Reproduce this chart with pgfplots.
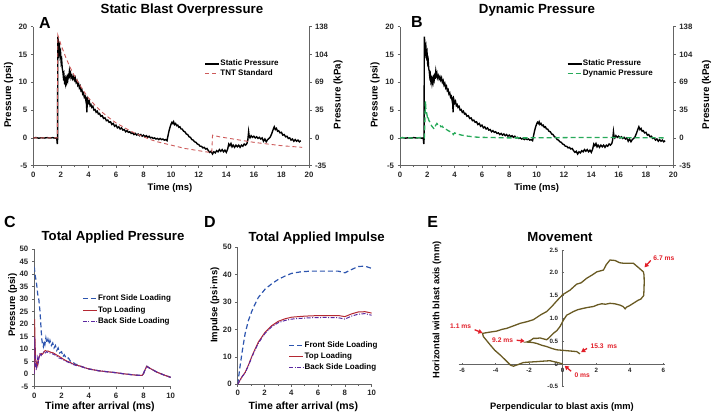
\documentclass[border=0pt]{standalone}
\usepackage{fontspec}
\setmainfont{Liberation Sans}
\usepackage{pgfplots}
\pgfplotsset{compat=1.18}
\usepackage{pgfplotstable}
\usetikzlibrary{arrows.meta}

\definecolor{axgray}{RGB}{100,100,100}
\definecolor{tntred}{RGB}{205,90,90}
\definecolor{dyngreen}{RGB}{40,170,90}
\definecolor{fblue}{RGB}{45,85,175}
\definecolor{tred}{RGB}{180,40,50}
\definecolor{bpurple}{RGB}{90,40,160}
\definecolor{olivetr}{RGB}{105,90,35}
\definecolor{annred}{RGB}{225,30,40}

\pgfplotstableread{
t p
0 0
0.2 0.05
0.4 -0.05
0.6 0.03
0.8 -0.03
1.0 0.05
1.2 -0.02
1.4 0.04
1.6 -0.05
1.70 0.0
1.74 -1.1
1.76 -0.3
1.78 18.2
1.82 17.0
1.86 15.5
1.90 16.2
1.94 14.8
1.98 15.3
2.02 13.6
2.06 14.0
2.10 12.5
2.14 12.0
2.18 11.0
2.22 11.4
2.26 10.2
2.30 10.6
2.34 9.8
2.38 10.5
2.42 10.0
2.46 10.8
2.50 10.4
2.54 11.2
2.58 11.0
2.62 12.0
2.66 11.3
2.70 11.6
2.74 10.8
2.80 11.2
2.86 10.6
2.92 11.0
2.98 10.4
3.04 10.8
3.10 10.0
3.16 10.3
3.22 9.5
3.28 9.8
3.34 9.0
3.40 9.3
3.46 8.5
3.52 8.7
3.58 7.9
3.64 8.1
3.70 7.3
3.76 7.5
3.82 6.6
3.86 6.9
3.88 4.6
3.91 6.0
3.95 6.8
4.00 6.3
4.06 6.6
4.12 5.8
4.18 6.0
4.24 5.5
4.32 5.7
4.40 5.0
4.48 5.1
4.56 4.6
4.64 4.8
4.72 4.3
4.80 4.4
4.90 3.9
5.00 4.0
5.10 3.5
5.20 3.6
5.30 3.1
5.40 3.2
5.50 2.8
5.60 2.9
5.70 2.4
5.80 2.6
5.90 2.1
6.00 2.3
6.10 1.8
6.20 2.0
6.30 1.6
6.40 1.8
6.50 1.4
6.60 1.5
6.70 1.1
6.80 1.3
6.90 1.0
7.00 1.1
7.10 0.8
7.20 0.9
7.30 0.6
7.40 0.8
7.50 0.5
7.60 0.7
7.70 0.4
7.80 0.6
7.90 0.3
8.00 0.5
8.10 0.2
8.20 0.4
8.30 0.1
8.40 0.3
8.50 0.0
8.60 0.1
8.70 -0.1
8.80 0.0
8.90 -0.2
9.00 -0.1
9.10 -0.3
9.20 -0.1
9.30 -0.3
9.40 -0.2
9.50 -0.4
9.60 -0.3
9.70 -0.5
9.78 0.5
9.86 1.4
9.94 2.1
10.00 2.5
10.06 2.8
10.12 2.6
10.18 2.9
10.24 2.4
10.32 2.6
10.40 2.2
10.48 2.3
10.56 1.9
10.64 2.0
10.72 1.6
10.80 1.6
10.90 1.2
11.00 1.1
11.10 0.7
11.20 0.6
11.30 0.2
11.40 0.1
11.50 -0.3
11.60 -0.4
11.70 -0.7
11.80 -0.8
11.90 -1.1
12.00 -1.2
12.10 -1.5
12.20 -1.5
12.30 -1.8
12.40 -1.7
12.50 -2.0
12.60 -1.9
12.70 -2.3
12.80 -2.6
12.90 -2.4
13.00 -2.9
13.10 -2.5
13.20 -2.7
13.30 -2.3
13.40 -2.5
13.50 -2.1
13.60 -2.4
13.70 -2.1
13.80 -2.5
13.90 -2.2
14.00 -2.6
14.10 -2.0
14.18 -1.1
14.26 -1.4
14.34 -1.0
14.42 -1.6
14.50 -1.3
14.60 -1.7
14.70 -1.3
14.80 -1.6
14.90 -1.3
15.00 -1.7
15.10 -1.3
15.20 -1.5
15.30 -1.1
15.40 -1.3
15.50 -1.0
15.56 -0.4
15.62 1.1
15.66 0.3
15.72 0.0
15.80 0.4
15.90 0.1
16.00 0.3
16.10 0.0
16.20 0.2
16.30 -0.1
16.40 0.1
16.50 -0.2
16.60 0.0
16.70 -0.6
16.80 -0.2
16.90 -0.7
17.00 -0.3
17.10 -0.1
17.20 0.2
17.30 0.8
17.40 1.5
17.48 2.0
17.56 1.5
17.64 1.7
17.72 1.2
17.80 1.3
17.90 0.9
18.00 1.0
18.10 0.5
18.20 0.6
18.30 0.2
18.40 0.3
18.50 -0.1
18.60 0.0
18.70 -0.4
18.80 -0.2
18.90 -0.6
19.00 -0.3
19.10 -0.6
19.20 -0.4
19.30 -0.7
19.40 -0.5
}\staticdata

\pgfplotstableread{
t p
0 0
1.74 0
1.78 18.5
2.0 16.8
2.4 14.2
2.8 12.0
3.2 10.2
3.6 8.6
4.0 7.2
4.5 5.8
5.0 4.6
5.5 3.6
6.0 2.7
6.5 2.0
7.0 1.3
7.5 0.7
8.0 0.2
8.5 -0.3
9.0 -0.7
9.5 -1.0
10.0 -1.3
10.5 -1.6
11.0 -1.9
11.5 -2.1
12.0 -2.3
12.5 -2.5
12.95 -2.65
13.0 0.5
13.5 0.2
14.0 0.0
14.5 -0.2
15.0 -0.4
15.5 -0.6
16.0 -0.8
16.5 -0.95
17.0 -1.1
17.5 -1.25
18.0 -1.4
18.5 -1.5
19.0 -1.6
19.5 -1.7
}\tntdata

\pgfplotstableread{
t p
0 0
0.5 0.05
1.0 -0.05
1.5 0.05
1.78 0
1.82 3.0
1.86 6.6
1.90 5.0
1.95 4.5
2.0 3.8
2.05 4.0
2.1 3.2
2.2 2.8
2.3 2.2
2.4 1.9
2.5 1.6
2.6 2.2
2.7 2.6
2.8 2.3
2.9 2.4
3.0 2.0
3.1 2.1
3.2 1.7
3.4 1.5
3.6 1.2
3.8 1.0
3.9 0.6
4.0 0.9
4.2 0.7
4.5 0.5
5.0 0.3
5.5 0.15
6.0 0.1
7.0 0.05
8.0 0.0
9.0 0.0
10.0 0.02
12.0 0.05
14.0 0.08
16.0 0.05
18.0 0.03
19.5 0.0
}\dyndata

\pgfplotstableread{
t f
0 43
0.05 40
0.1 38.5
0.17 36
0.25 32
0.33 30
0.42 25
0.5 18
0.55 14
0.6 12
0.66 11
0.72 13.5
0.78 12
0.85 14.5
0.92 12.5
1.0 14
1.08 12
1.15 13.5
1.25 11.5
1.35 12.5
1.45 10.5
1.55 11.5
1.65 9.5
1.75 10.5
1.85 8.5
2.0 9
2.1 7
2.2 7.8
2.35 6.2
2.5 6.5
2.65 5.2
2.8 5.0
3.0 4.0
3.2 3.8
3.4 3.2
3.7 2.6
4.0 2.1
4.4 1.7
4.7 1.4
5.0 1.2
5.5 0.9
6.0 0.6
6.5 0.2
7.0 -0.1
7.5 -0.4
7.9 -0.5
8.0 0.2
8.15 2.2
8.25 3.2
8.4 2.6
8.6 2.0
9.0 0.8
9.5 -0.3
10.0 -1.2
}\frontdata

\pgfplotstableread{
t p
0 0
0.02 22
0.06 12
0.1 6
0.15 3
0.2 4.5
0.25 3.5
0.3 6
0.4 7.5
0.5 8.3
0.6 8.0
0.7 8.8
0.8 9.5
0.9 9.2
1.0 9.3
1.2 8.8
1.4 8.5
1.6 7.8
1.8 7.2
2.0 6.5
2.2 5.8
2.4 5.2
2.6 4.8
2.8 4.2
3.0 3.8
3.4 3.2
3.7 2.6
4.0 2.1
4.4 1.7
4.7 1.4
5.0 1.2
5.5 0.9
6.0 0.6
6.5 0.2
7.0 -0.1
7.5 -0.4
7.9 -0.5
8.0 0.2
8.15 2.2
8.25 3.2
8.4 2.6
8.6 2.0
9.0 0.8
9.5 -0.3
10.0 -1.2
}\topdata

\pgfplotstableread{
t p
0 0
0.02 15
0.06 8
0.1 3
0.15 1.8
0.2 4
0.25 6.5
0.3 5
0.4 8.5
0.5 7.5
0.6 8.5
0.7 9
0.8 8.5
0.9 9
1.0 8.7
1.2 8.4
1.4 8.0
1.6 7.5
1.8 6.5
2.0 6.2
2.2 5.5
2.4 5.0
2.6 4.5
2.8 4.0
3.0 3.6
3.4 3.1
3.7 2.6
4.0 2.1
4.4 1.7
4.7 1.4
5.0 1.2
5.5 0.9
6.0 0.6
6.5 0.2
7.0 -0.1
7.5 -0.4
7.9 -0.5
8.0 0.2
8.15 2.2
8.25 3.1
8.4 2.6
8.6 2.0
9.0 0.8
9.5 -0.3
10.0 -1.3
}\backdata

\pgfplotstableread{
t f r b
0 0 0 0
0.17 6.4 1.5 1.4
0.35 12.4 3.0 2.9
0.55 18.4 4.3 4.1
0.8 23.3 7.0 6.8
1.04 26.5 10.0 9.7
1.17 28 11.5 11.2
1.54 31.7 15.4 15.0
2.04 34.7 19.0 18.6
2.54 36.7 21.4 21.0
3.03 38.3 23.0 22.5
3.53 39.5 23.9 23.3
4.03 40.5 24.5 23.8
4.78 41.1 24.8 24.1
5.5 41.3 25.0 24.3
6.5 41.3 25.1 24.4
7.5 41.3 25.1 24.3
8.0 40.7 24.7 23.8
8.5 41.9 25.7 24.9
9.0 43.0 26.4 25.6
9.5 43.1 26.5 25.8
10.0 42.3 26.0 25.2
}\impdata

\pgfplotstableread{
x y
0.0 0.0
-0.3 0.03
-0.76 0.07
-1.2 0.06
-1.55 0.05
-2.0 0.04
-2.35 0.03
-2.7 -0.02
-2.94 -0.05
-3.1 -0.03
-3.4 0.08
-3.74 0.2
-4.05 0.3
-4.33 0.42
-4.55 0.52
-4.73 0.6
-4.78 0.67
-4.63 0.68
-4.3 0.70
-3.94 0.72
-3.6 0.76
-3.34 0.78
-2.9 0.84
-2.54 0.89
-2.1 0.93
-1.75 0.97
-1.3 1.08
-0.95 1.15
-0.6 1.28
-0.36 1.38
0.0 1.52
0.44 1.62
0.83 1.75
1.1 1.78
1.43 1.88
1.75 1.95
2.03 2.02
2.43 2.06
2.6 2.18
2.82 2.28
3.12 2.27
3.4 2.22
3.62 2.21
3.9 2.21
4.21 2.21
4.5 2.12
4.81 2.02
4.85 1.95
4.86 1.8
4.85 1.66
4.83 1.5
4.65 1.42
4.51 1.40
4.21 1.33
3.95 1.27
3.82 1.25
3.72 1.21
3.6 1.26
3.42 1.29
3.1 1.32
2.82 1.33
2.55 1.31
2.33 1.32
2.1 1.30
1.83 1.26
1.5 1.24
1.23 1.22
0.9 1.19
0.64 1.15
0.4 1.10
0.24 1.07
0.04 0.96
-0.16 0.82
-0.35 0.73
-0.56 0.67
-0.8 0.58
-0.95 0.53
-1.15 0.55
-1.35 0.57
-1.55 0.56
-1.75 0.56
-1.9 0.52
-2.05 0.49
-2.15 0.48
-1.8 0.47
-1.55 0.45
-1.25 0.41
-0.95 0.38
-0.65 0.34
-0.36 0.31
-0.05 0.30
0.24 0.29
0.55 0.28
0.84 0.27
1.03 0.22
}\movedata

\pgfplotsset{
  base/.style={
    scale only axis,
    axis line style={axgray, line width=0.8pt, -},
    every inner x axis line/.append style={-},
    every inner y axis line/.append style={-},
    every outer x axis line/.append style={-},
    every outer y axis line/.append style={-},
    tick style={axgray, line width=0.6pt},
    tick align=outside,
    major tick length=2.5pt,
    minor tick length=1.5pt,
    ticklabel style={font=\bfseries\fontsize{7.8}{9}\selectfont, text=black!85},
    /pgf/number format/assume math mode=true,
    legend cell align=left,
    legend style={draw=none, fill=none, inner sep=0pt, row sep=1pt,
      nodes={inner sep=0.6pt},
      font=\bfseries\fontsize{8}{9}\selectfont},
    legend image code/.code={\draw[#1] (0pt,0pt) -- (14pt,0pt);},
  },
  stat/.style={black, line width=1.4pt},
}

\begin{document}
\begin{tikzpicture}[x=1pt,y=1pt]
\path[use as bounding box] (0,0) rectangle (714,417);

% ---------- Panel A ----------
\begin{axis}[base, at={(33.3pt,251.3pt)}, anchor=south west,
  width=275.7pt, height=139pt, xmin=0, xmax=20, ymin=-5, ymax=20,
  xtick={0,2,...,20}, ytick={-5,0,...,20}, minor x tick num=1,
  axis x line*=bottom, axis y line*=left,
  legend style={at={(0.62,0.765)}, anchor=north west}]
\addplot[stat] table[x=t,y=p] {\staticdata};
\addlegendentry{Static Pressure}
\addplot[tntred, line width=0.9pt, dash pattern=on 4pt off 3pt] table[x=t,y=p] {\tntdata};
\addlegendentry{TNT Standard}
\end{axis}
\begin{axis}[base, at={(33.3pt,251.3pt)}, anchor=south west,
  width=275.7pt, height=139pt, xmin=0, xmax=20, ymin=-5, ymax=20,
  axis x line=none, axis y line*=right,
  ytick={-5,0,...,20}, yticklabels={-35,0,35,69,104,138}]
\end{axis}

% ---------- Panel B ----------
\begin{axis}[base, at={(400pt,251.3pt)}, anchor=south west,
  width=273.3pt, height=139pt, xmin=0, xmax=20, ymin=-5, ymax=20,
  xtick={0,2,...,20}, ytick={-5,0,...,20}, minor x tick num=1,
  axis x line*=bottom, axis y line*=left,
  legend style={at={(0.61,0.765)}, anchor=north west}]
\addplot[stat] table[x=t,y=p] {\staticdata};
\addlegendentry{Static Pressure}
\addplot[dyngreen, line width=1.3pt, dash pattern=on 5pt off 3pt] table[x=t,y=p] {\dyndata};
\addlegendentry{Dynamic Pressure}
\end{axis}
\begin{axis}[base, at={(400pt,251.3pt)}, anchor=south west,
  width=273.3pt, height=139pt, xmin=0, xmax=20, ymin=-5, ymax=20,
  axis x line=none, axis y line*=right,
  ytick={-5,0,...,20}, yticklabels={-35,0,35,69,104,138}]
\end{axis}

% ---------- Panel C ----------
\begin{axis}[base, at={(34.3pt,30.3pt)}, anchor=south west,
  width=136.4pt, height=137.4pt, xmin=0, xmax=10, ymin=-5, ymax=50,
  xtick={0,2,...,10}, ytick={-5,0,...,50},
  axis x line*=bottom, axis y line*=left,
  legend style={at={(0.35,0.672)}, anchor=north west, row sep=3pt}]
\addplot[fblue, line width=1.2pt, dash pattern=on 5pt off 3pt] table[x=t,y=f] {\frontdata};
\addlegendentry{Front Side Loading}
\addplot[tred, line width=1pt] table[x=t,y=p] {\topdata};
\addlegendentry{Top Loading}
\addplot[bpurple, line width=1pt, dash pattern=on 4pt off 1.5pt on 1pt off 1.5pt] table[x=t,y=p] {\backdata};
\addlegendentry{Back Side Loading}
\end{axis}

% ---------- Panel D ----------
\begin{axis}[base, at={(237.7pt,32.7pt)}, anchor=south west,
  width=134pt, height=137pt, xmin=0, xmax=10, ymin=0, ymax=50,
  xtick={0,2,...,10}, ytick={0,10,...,50}, minor x tick num=1,
  axis x line*=bottom, axis y line*=left,
  legend style={at={(0.38,0.315)}, anchor=north west, row sep=2.5pt}]
\addplot[fblue, line width=1.2pt, dash pattern=on 5pt off 3pt] table[x=t,y=f] {\impdata};
\addlegendentry{Front Side Loading}
\addplot[tred, line width=1pt] table[x=t,y=r] {\impdata};
\addlegendentry{Top Loading}
\addplot[bpurple, line width=1pt, dash pattern=on 4pt off 1.5pt on 1pt off 1.5pt] table[x=t,y=b] {\impdata};
\addlegendentry{Back Side Loading}
\end{axis}

% ---------- Panel E ----------
\begin{axis}[base, at={(458.7pt,30.3pt)}, anchor=south west,
  width=206.3pt, height=136.7pt, xmin=-6.2, xmax=6.1, ymin=-0.5, ymax=2.5,
  axis lines=middle, tick align=center, major tick length=2pt,
  hide obscured x ticks=false, hide obscured y ticks=false,
  axis line style={axgray, line width=0.6pt, -},
  xtick={-6,-4,...,6}, ytick={-0.5,0,0.5,1,1.5,2,2.5},
  yticklabels={-0.5,0,0.5,1.0,1.5,2.0,2.5},
  ticklabel style={font=\bfseries\fontsize{6.2}{7}\selectfont},
  clip=false]
\addplot[olivetr, line width=1.3pt] table[x=x,y=y] {\movedata};
\begin{scope}[annred, line width=1.3pt, -{Triangle[length=4pt,width=4.5pt]}]
\draw (axis cs:5.25,2.27) -- (axis cs:4.88,2.12);
\draw (axis cs:-5.25,0.75) -- (axis cs:-4.78,0.68);
\draw (axis cs:-2.75,0.52) -- (axis cs:-2.27,0.50);
\draw (axis cs:1.45,0.34) -- (axis cs:1.1,0.26);
\draw (axis cs:0.5,-0.16) -- (axis cs:0.12,-0.04);
\end{scope}
\begin{scope}[annred, font=\bfseries\fontsize{6.7}{8}\selectfont]
\node[anchor=west] at (axis cs:5.2,2.32) {6.7 ms};
\node[anchor=east] at (axis cs:-5.25,0.82) {1.1 ms};
\node[anchor=east] at (axis cs:-2.75,0.53) {9.2 ms};
\node[anchor=west] at (axis cs:1.45,0.38) {15.3~ ms};
\node[anchor=west] at (axis cs:0.5,-0.24) {0 ms};
\end{scope}
\end{axis}

% ---------- Titles, labels, letters ----------
\begin{scope}[font=\bfseries]
\node[font=\bfseries\fontsize{13.3}{15}\selectfont] at (182,407) {Static Blast Overpressure};
\node[font=\bfseries\fontsize{13.3}{15}\selectfont] at (537,407) {Dynamic Pressure};
\node[font=\bfseries\fontsize{13.2}{15}\selectfont] at (113,180) {Total Applied Pressure};
\node[font=\bfseries\fontsize{13.2}{15}\selectfont] at (316.7,179) {Total Applied Impulse};
\node[font=\bfseries\fontsize{13.2}{15}\selectfont] at (560,180) {Movement};

\node[font=\bfseries\fontsize{16}{18}\selectfont] at (45,394) {A};
\node[font=\bfseries\fontsize{16}{18}\selectfont] at (417,395) {B};
\node[font=\bfseries\fontsize{16}{18}\selectfont] at (10,195.3) {C};
\node[font=\bfseries\fontsize{16}{18}\selectfont] at (210,195.3) {D};
\node[font=\bfseries\fontsize{16}{18}\selectfont] at (432.7,195.3) {E};

\node[rotate=90, font=\bfseries\fontsize{9.8}{11}\selectfont] at (8.5,322) {Pressure (psi)};
\node[rotate=90, font=\bfseries\fontsize{9.8}{11}\selectfont] at (338,322) {Pressure (kPa)};
\node[font=\bfseries\fontsize{9.5}{11}\selectfont] at (170,229) {Time (ms)};

\node[rotate=90, font=\bfseries\fontsize{9.8}{11}\selectfont] at (375,322) {Pressure (psi)};
\node[rotate=90, font=\bfseries\fontsize{9.8}{11}\selectfont] at (706.5,322) {Pressure (kPa)};
\node[font=\bfseries\fontsize{9.5}{11}\selectfont] at (536.7,229) {Time (ms)};

\node[rotate=90, font=\bfseries\fontsize{9.5}{11}\selectfont] at (12.7,112) {Pressure (psi)};
\node[font=\bfseries\fontsize{10.5}{12}\selectfont] at (100,10) {Time after arrival (ms)};

\node[rotate=90, font=\bfseries\fontsize{9.5}{11}\selectfont] at (215,112) {Impulse (psi·ms)};
\node[font=\bfseries\fontsize{10.5}{12}\selectfont] at (303.3,10) {Time after arrival (ms)};

\node[rotate=90, font=\bfseries\fontsize{9.3}{11}\selectfont] at (437,107) {Horizontal with blast axis (mm)};
\node[font=\bfseries\fontsize{9.3}{11}\selectfont] at (562,10) {Perpendicular to blast axis (mm)};
\end{scope}
\end{tikzpicture}
\end{document}
